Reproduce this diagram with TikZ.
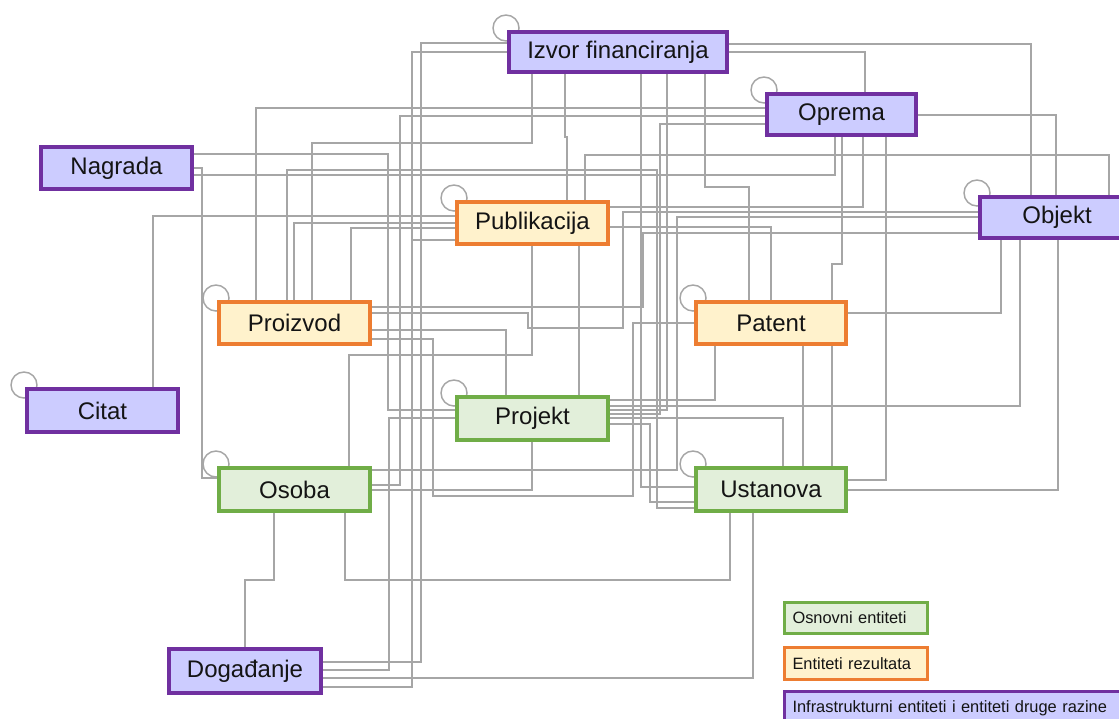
\documentclass[tikz,border=0pt]{standalone}
\usepackage{fontspec}
\setmainfont{Liberation Sans}
\usetikzlibrary{calc}
\definecolor{purpB}{RGB}{112,48,160}
\definecolor{purpF}{RGB}{204,204,255}
\definecolor{orB}{RGB}{237,125,49}
\definecolor{orF}{RGB}{255,242,204}
\definecolor{grB}{RGB}{112,173,71}
\definecolor{grF}{RGB}{226,239,218}
\definecolor{lineC}{RGB}{166,166,166}
\definecolor{txtC}{RGB}{20,20,20}
\pgfdeclarelayer{bg}
\pgfsetlayers{bg,main}
\begin{document}
\begin{tikzpicture}[x=0.75pt,y=-0.75pt,
  sz/.style 2 args={minimum width={#1*0.75pt}, minimum height={#2*0.75pt}},
  ent/.style={draw, line width=3pt, inner sep=0pt, text=txtC,
    font=\fontsize{18}{20}\selectfont},
  purp/.style={ent, draw=purpB, fill=purpF},
  oran/.style={ent, draw=orB, fill=orF},
  gree/.style={ent, draw=grB, fill=grF},
  leg/.style={draw, line width=2.25pt, inner xsep=6pt, inner ysep=0pt, align=left,
    text=txtC, font=\fontsize{12.3}{14}\selectfont, anchor=north west},
  conn/.style={draw=lineC, line width=1.1pt},
  selfloop/.style={draw=lineC, line width=1.1pt}
]
\useasboundingbox (0,0) rectangle (1119,718);

% entity nodes
\node[purp, sz={218}{40}] (izvor)  at (618,52)    {Izvor financiranja};
\node[purp, sz={149}{41}] (oprema) at (841.5,114.5) {Oprema};
\node[purp, sz={151}{42}] (nag)    at (116.5,168) {Nagrada};
\node[purp, sz={154}{41}] (objekt) at (1057,217.5) {Objekt};
\node[oran, sz={151}{42}] (pub)    at (532.5,223) {Publikacija};
\node[oran, sz={151}{42}] (proiz)  at (294.5,323) {Proizvod};
\node[oran, sz={150}{42}] (patent) at (771,323)   {Patent};
\node[purp, sz={151}{43}] (citat)  at (102.5,410.5) {Citat};
\node[gree, sz={151}{43}] (proj)   at (532.5,418.5) {Projekt};
\node[gree, sz={151}{43}] (osoba)  at (294.5,489.5) {Osoba};
\node[gree, sz={150}{43}] (ust)    at (771,489.5) {Ustanova};
\node[purp, sz={152}{44}] (dog)    at (245,671)   {Događanje};

% legend
\node[leg, draw=grB, fill=grF, text width=95pt, minimum height={31*0.75pt}] (lg1) at (783,601) {Osnovni entiteti};
\node[leg, draw=orB, fill=orF, text width=95pt, minimum height={32*0.75pt}] (lg2) at (783,646) {Entiteti rezultata};
\node[leg, draw=purpB, fill=purpF, text width=250pt, minimum height={33*0.75pt}] (lg3) at (783,690) {Infrastrukturni entiteti i entiteti druge razine};

\begin{pgfonlayer}{bg}
\fill[white] (0,0) rectangle (1119,718);
% self loops
\foreach \n in {izvor,oprema,objekt,pub,proiz,patent,citat,proj,osoba,ust}
  \draw[selfloop] ($(\n.north west)+(-1,-2)$) circle[radius=9.75pt];

% connectors
\draw[conn] (izvor.west|-0,43) -| (421,662) -- (dog.east|-0,662);
\draw[conn] (izvor.west|-0,52) -| (412,240) -- (pub.west|-0,240);
\draw[conn] (dog.east|-0,687) -| (412,52) -- (izvor.west|-0,52);
\draw[conn] (proj.west|-0,418) -| (389,670) -- (dog.east|-0,670);
\draw[conn] (dog.east|-0,678) -| (ust.south-|753,0);
\draw[conn] (osoba.south-|274,0) |- (245,580) -- (dog.north-|245,0);
\draw[conn] (osoba.south-|345,0) |- (730,580) -- (ust.south-|730,0);
\draw[conn] (nag.east|-0,168) -| (202,478) -- (osoba.west|-0,478);
\draw[conn] (citat.north-|153,0) |- (pub.west|-0,216);
\draw[conn] (nag.east|-0,154) -| (388,410) -- (proj.west|-0,410);
\draw[conn] (proiz.north-|256,0) |- (oprema.west|-0,108);
\draw[conn] (proiz.north-|312,0) |- (532,143) -- (izvor.south-|532,0);
\draw[conn] (izvor.south-|565,0) -- (565,137) -- (567,137) -- (pub.north-|567,0);
\draw[conn] (izvor.south-|705,0) |- (749,187) -- (patent.north-|749,0);
\draw[conn] (izvor.east|-0,44) -| (objekt.north-|1031,0);
\draw[conn] (izvor.east|-0,52) -| (oprema.north-|865,0);
\draw[conn] (oprema.east|-0,115) -| (objekt.north-|1056,0);
\draw[conn] (oprema.south-|842,0) |- (832,264) -- (patent.north-|832,0);
\draw[conn] (oprema.south-|886,0) |- (ust.east|-0,480);
\draw[conn] (oprema.west|-0,116) -| (400,485) -- (osoba.east|-0,485);
\draw[conn] (proiz.north-|294,0) |- (pub.west|-0,223);
\draw[conn] (proiz.north-|351,0) |- (pub.west|-0,228);
\draw[conn] (proiz.north-|287,0) |- (657,170) |- (ust.west|-0,508);
\draw[conn] (nag.east|-0,175) -| (oprema.south-|835,0);
\draw[conn] (oprema.south-|863,0) |- (pub.east|-0,207);
\draw[conn] (objekt.west|-0,212) -| (623,328) -| (528,313) -- (proiz.east|-0,313);
\draw[conn] (objekt.west|-0,217) -| (677,470) -- (osoba.east|-0,470);
\draw[conn] (pub.east|-0,227) -| (patent.north-|771,0);
\draw[conn] (objekt.west|-0,233) -| (643,307) -- (proiz.east|-0,307);
\draw[conn] (patent.east|-0,313) -| (objekt.south-|1001,0);
\draw[conn] (objekt.south-|1020,0) |- (proj.east|-0,406);
\draw[conn] (objekt.south-|1058,0) |- (ust.east|-0,490);
\draw[conn] (proj.east|-0,418) -| (ust.north-|783,0);
\draw[conn] (patent.south-|803,0) -- (ust.north-|803,0);
\draw[conn] (patent.south-|832,0) -- (ust.north-|832,0);
\draw[conn] (patent.south-|715,0) |- (proj.east|-0,400);
\draw[conn] (izvor.south-|667,0) |- (proj.east|-0,410);
\draw[conn] (oprema.west|-0,124) -| (660,414) -- (proj.east|-0,414);
\draw[conn] (izvor.south-|641,0) |- (ust.west|-0,487);
\draw[conn] (pub.south-|532,0) |- (349,355) -- (osoba.north-|349,0);
\draw[conn] (pub.south-|579,0) -- (proj.north-|579,0);
\draw[conn] (proiz.east|-0,330) -| (proj.north-|506,0);
\draw[conn] (proiz.east|-0,339) -| (433,496) -| (633,323) -- (patent.west|-0,323);
\draw[conn] (pub.north-|585,0) |- (1109,155) -- (objekt.north-|1109,0);
\draw[conn] (proj.south-|532,0) |- (osoba.east|-0,490);
\draw[conn] (proj.east|-0,424) -| (650,502) -- (ust.west|-0,502);
\end{pgfonlayer}
\end{tikzpicture}
\end{document}
